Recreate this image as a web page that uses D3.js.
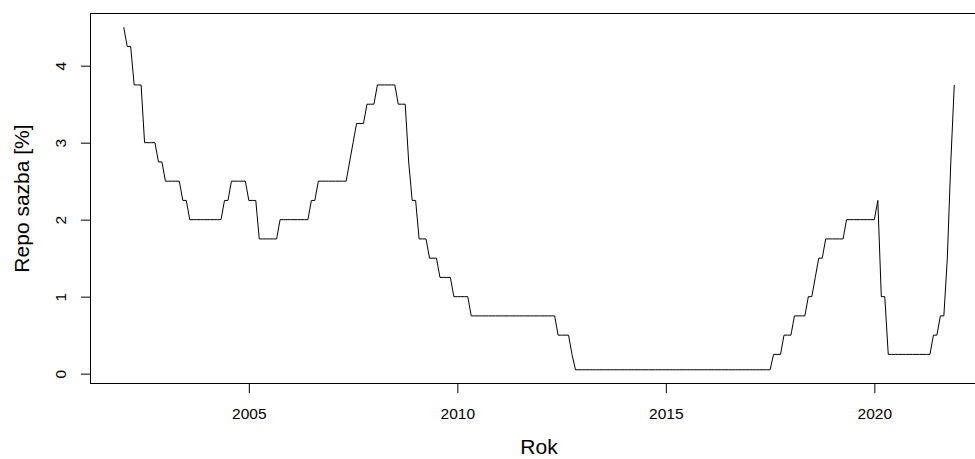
<!DOCTYPE html>
<html>
<head>
<meta charset="utf-8">
<script src="https://cdn.jsdelivr.net/npm/d3@7"></script>
<style>
    body { margin: 0; background: #fff; }
    svg { display: block; font-family: "Liberation Sans", Arial, Helvetica, sans-serif; }
    .tick-label { font-size: 15.5px; fill: #000; }
    .axis-title { font-size: 21px; fill: #000; }
</style>
</head>
<body>
<svg width="975" height="459"></svg>
<script>
"use strict";

// monthly CNB repo rate [%], first value = January 2002
var startYear = 2002;
var repoRate = [
    4.5, 4.25, 4.25, 3.75, 3.75, 3.75, 3, 3, 3, 3, 2.75, 2.75,             // 2002
    2.5, 2.5, 2.5, 2.5, 2.5, 2.25, 2.25, 2, 2, 2, 2, 2,                     // 2003
    2, 2, 2, 2, 2, 2.25, 2.25, 2.5, 2.5, 2.5, 2.5, 2.5,                     // 2004
    2.25, 2.25, 2.25, 1.75, 1.75, 1.75, 1.75, 1.75, 1.75, 2, 2, 2,          // 2005
    2, 2, 2, 2, 2, 2, 2.25, 2.25, 2.5, 2.5, 2.5, 2.5,                       // 2006
    2.5, 2.5, 2.5, 2.5, 2.5, 2.75, 3, 3.25, 3.25, 3.25, 3.5, 3.5,           // 2007
    3.5, 3.75, 3.75, 3.75, 3.75, 3.75, 3.75, 3.5, 3.5, 3.5, 2.75, 2.25,     // 2008
    2.25, 1.75, 1.75, 1.75, 1.5, 1.5, 1.5, 1.25, 1.25, 1.25, 1.25, 1,       // 2009
    1, 1, 1, 1, 0.75, 0.75, 0.75, 0.75, 0.75, 0.75, 0.75, 0.75,             // 2010
    0.75, 0.75, 0.75, 0.75, 0.75, 0.75, 0.75, 0.75, 0.75, 0.75, 0.75, 0.75, // 2011
    0.75, 0.75, 0.75, 0.75, 0.75, 0.5, 0.5, 0.5, 0.5, 0.25, 0.05, 0.05,     // 2012
    0.05, 0.05, 0.05, 0.05, 0.05, 0.05, 0.05, 0.05, 0.05, 0.05, 0.05, 0.05, // 2013
    0.05, 0.05, 0.05, 0.05, 0.05, 0.05, 0.05, 0.05, 0.05, 0.05, 0.05, 0.05, // 2014
    0.05, 0.05, 0.05, 0.05, 0.05, 0.05, 0.05, 0.05, 0.05, 0.05, 0.05, 0.05, // 2015
    0.05, 0.05, 0.05, 0.05, 0.05, 0.05, 0.05, 0.05, 0.05, 0.05, 0.05, 0.05, // 2016
    0.05, 0.05, 0.05, 0.05, 0.05, 0.05, 0.05, 0.25, 0.25, 0.25, 0.5, 0.5,   // 2017
    0.5, 0.75, 0.75, 0.75, 0.75, 1, 1, 1.25, 1.5, 1.5, 1.75, 1.75,          // 2018
    1.75, 1.75, 1.75, 1.75, 2, 2, 2, 2, 2, 2, 2, 2,                         // 2019
    2, 2.25, 1, 1, 0.25, 0.25, 0.25, 0.25, 0.25, 0.25, 0.25, 0.25,          // 2020
    0.25, 0.25, 0.25, 0.25, 0.25, 0.5, 0.5, 0.75, 0.75, 1.5, 2.75, 3.75     // 2021
];
var xTicks = [2005, 2010, 2015, 2020];
var yTicks = [0, 1, 2, 3, 4];
var xTitle = "Rok";
var yTitle = "Repo sazba [%]";

var plot = { left: 90.5, right: 987.5, top: 13.5, bottom: 383.5 };
var tickLength = 9.6; // px

var svg = d3.select("svg");

var points = repoRate.map(function (v, i) {
    return { t: startYear + i / 12, v: v };
});

// R style 4 % padding of the data range
var pad = function (ext) {
    var d = (ext[1] - ext[0]) * 0.04;
    return [ext[0] - d, ext[1] + d];
};

var xScale = d3.scaleLinear()
    .domain(pad(d3.extent(points, function (d) { return d.t; })))
    .range([plot.left, plot.right]);
var yScale = d3.scaleLinear()
    .domain(pad(d3.extent(points, function (d) { return d.v; })))
    .range([plot.bottom, plot.top]);

var line = d3.line()
    .x(function (d) { return xScale(d.t); })
    .y(function (d) { return yScale(d.v); });

svg.append("path")
    .datum(points)
    .attr("fill", "none")
    .attr("stroke", "#000")
    .attr("stroke-width", 1)
    .attr("d", line);

// box
svg.append("rect")
    .attr("x", plot.left)
    .attr("y", plot.top)
    .attr("width", plot.right - plot.left)
    .attr("height", plot.bottom - plot.top)
    .attr("fill", "none")
    .attr("stroke", "#000")
    .attr("stroke-width", 1);

// x axis
var xAxis = d3.axisBottom(xScale)
    .tickValues(xTicks)
    .tickFormat(d3.format("d"))
    .tickSize(tickLength);
var xAxisGroup = svg.append("g")
    .attr("transform", "translate(0," + plot.bottom + ")")
    .call(xAxis);
xAxisGroup.select(".domain").remove();
xAxisGroup.selectAll(".tick line").attr("stroke", "#000");
xAxisGroup.selectAll(".tick text")
    .attr("class", "tick-label")
    .attr("font-family", null)
    .attr("font-size", null)
    .attr("y", 35.5)
    .attr("dy", null);

// y axis, labels turned like R's las = 0
var yAxis = d3.axisLeft(yScale)
    .tickValues(yTicks)
    .tickFormat(d3.format("d"))
    .tickSize(tickLength);
var yAxisGroup = svg.append("g")
    .attr("transform", "translate(" + plot.left + ",0)")
    .call(yAxis);
yAxisGroup.select(".domain").remove();
yAxisGroup.selectAll(".tick line").attr("stroke", "#000");
yAxisGroup.selectAll(".tick text")
    .attr("class", "tick-label")
    .attr("font-family", null)
    .attr("font-size", null)
    .attr("x", null)
    .attr("dy", null)
    .attr("text-anchor", "middle")
    .attr("transform", "translate(-24.8,0) rotate(-90)");

svg.append("text")
    .attr("class", "axis-title")
    .attr("x", (plot.left + plot.right) / 2)
    .attr("y", 454)
    .attr("text-anchor", "middle")
    .text(xTitle);

svg.append("text")
    .attr("class", "axis-title")
    .attr("transform", "translate(29," + ((plot.top + plot.bottom) / 2) +
            ") rotate(-90)")
    .attr("text-anchor", "middle")
    .text(yTitle);
</script>
</body>
</html>
